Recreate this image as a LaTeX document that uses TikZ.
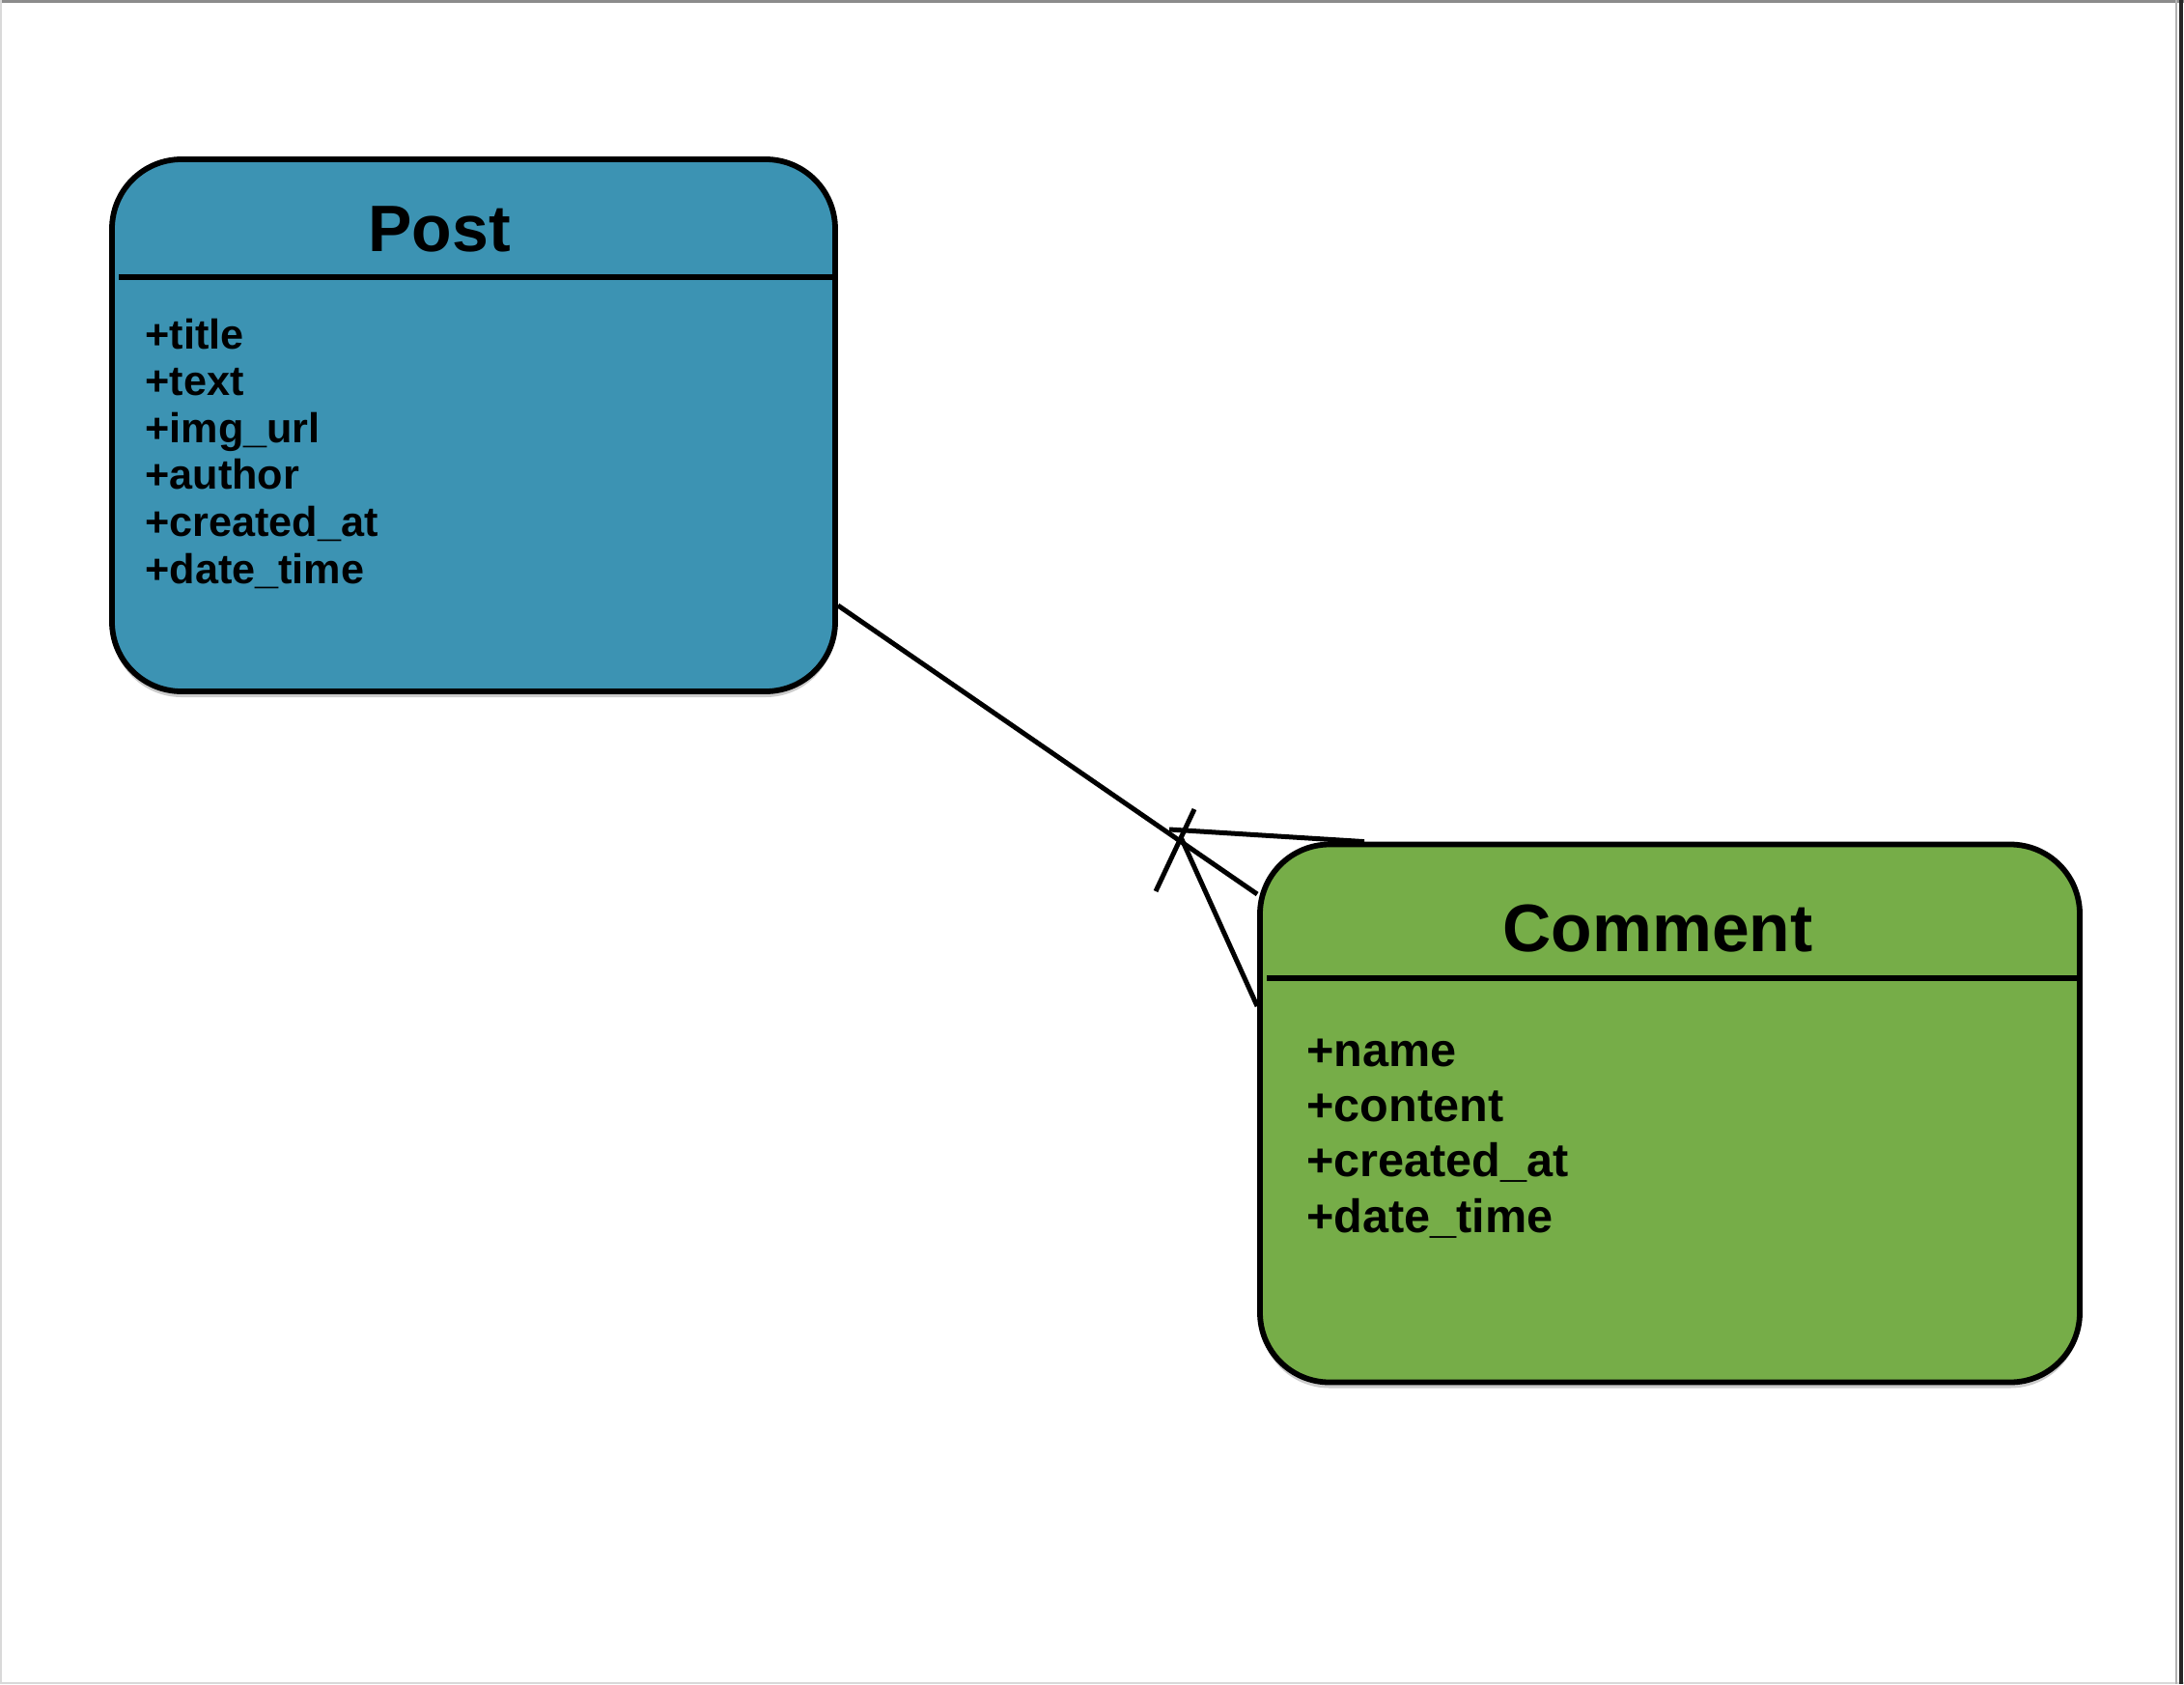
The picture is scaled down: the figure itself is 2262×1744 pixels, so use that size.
\documentclass[tikz,border=0pt]{standalone}
\usepackage{fontspec}
\setmainfont{Liberation Sans}
\usetikzlibrary{shadows}
\definecolor{postblue}{RGB}{60,147,179}
\definecolor{commentgreen}{RGB}{118,173,72}
\begin{document}
\begin{tikzpicture}[x=0.5pt,y=-0.5pt,
  entity/.style={draw=black, line width=2.9pt, rounded corners=36pt, inner sep=0pt,
    drop shadow={shadow xshift=0pt, shadow yshift=-3pt, opacity=0.2, fill=black}},
  sepline/.style={line width=2.6pt},
  titletext/.style={font=\fontsize{34pt}{38pt}\selectfont\bfseries, anchor=base, inner sep=0pt},
  pattr/.style={font=\fontsize{21.6pt}{24pt}\selectfont\bfseries, anchor=base west, inner sep=0pt},
  cattr/.style={font=\fontsize{24.3pt}{28pt}\selectfont\bfseries, anchor=base west, inner sep=0pt},
  link/.style={line width=2.5pt}]
\useasboundingbox (0,0) rectangle (2262,1744);
\fill[white] (0,0) rectangle (2262,1744);
% page edges
\draw[black!45, line width=1.2pt] (0,1.5) -- (2262,1.5);
\draw[black!15, line width=1pt] (1,0) -- (1,1744);
\draw[black!15, line width=1pt] (0,1742.5) -- (2262,1742.5);
\draw[black!30, line width=1pt] (2254,0) -- (2254,1744);
\draw[black!85, line width=2pt] (2259,0) -- (2259,1744);

% entities
\node[entity, fill=postblue, minimum width=374.5pt, minimum height=275.5pt] (post) at (490.5,440.5) {};
\node[entity, fill=commentgreen, minimum width=424.5pt, minimum height=278.5pt] (comment) at (1729.5,1153) {};

% separators
\draw[sepline] ([xshift=5pt]post.west |- 0,287) -- (post.east |- 0,287);
\draw[sepline] ([xshift=5pt]comment.west |- 0,1013) -- (comment.east |- 0,1013);

% titles
\node[titletext] (posttitle) at (455,260) {Post};
\node[titletext, font=\fontsize{34.8pt}{38pt}\selectfont\bfseries] (commenttitle) at (1717,985) {Comment};

% attributes
\node[pattr] (pa1) at (150,361) {+title};
\node[pattr] (pa2) at (150,409.6) {+text};
\node[pattr] (pa3) at (150,458.2) {+img\_url};
\node[pattr] (pa4) at (150,506.8) {+author};
\node[pattr] (pa5) at (150,555.4) {+created\_at};
\node[pattr] (pa6) at (150,604) {+date\_time};

\node[cattr] (ca1) at (1353,1104) {+name};
\node[cattr] (ca2) at (1353,1161.3) {+content};
\node[cattr] (ca3) at (1353,1218.6) {+created\_at};
\node[cattr] (ca4) at (1353,1276) {+date\_time};

% crow's foot connector (one or many)
\coordinate (cf) at (1223,867);
\coordinate (cftop) at (1211,859);
\coordinate (tick1) at (1237,838);
\coordinate (tick2) at (1197,923);
\draw[link] (post.east |- 0,627) -- (comment.west |- 0,926);
\draw[link] (cftop) -- (1413,0 |- comment.north);
\draw[link] (cf) -- (comment.west |- 0,1042);
\draw[link] (tick1) -- (tick2);
\end{tikzpicture}
\end{document}
